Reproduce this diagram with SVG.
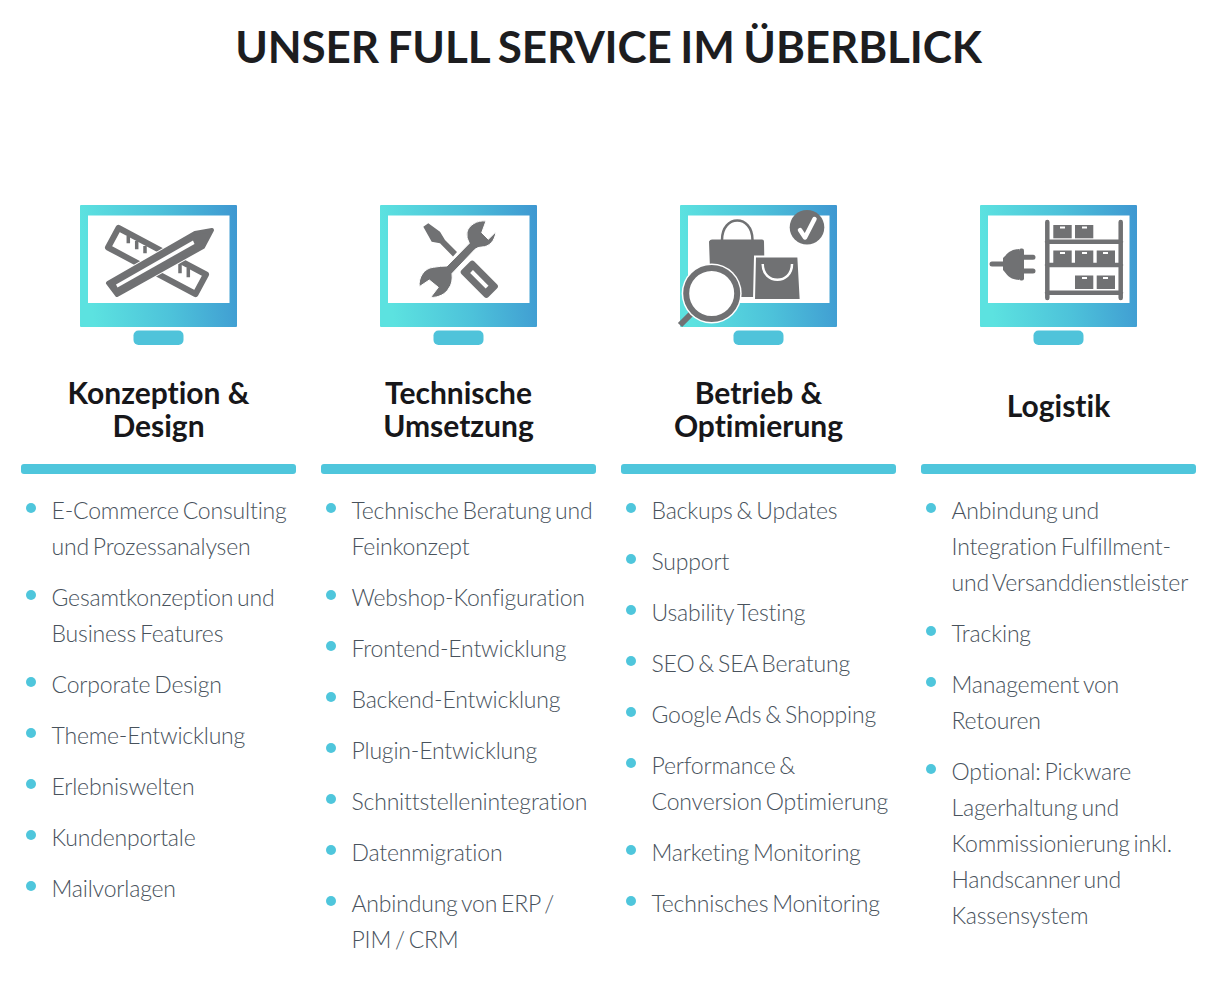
<svg xmlns="http://www.w3.org/2000/svg" xmlns:xlink="http://www.w3.org/1999/xlink" width="1223" height="981" viewBox="0 0 1223 981">
<style>
text{font-family:Lato,"Liberation Sans",sans-serif;font-variant-ligatures:none}
.t{font-size:44px;font-weight:700;fill:#1d1d1f;text-anchor:middle;word-spacing:-2px;letter-spacing:-0.1px}
.h{font-size:30px;font-weight:700;fill:#17171a;text-anchor:middle}
.l{font-size:23px;font-weight:300;fill:#48525c;letter-spacing:-0.18px;word-spacing:-2.2px}
.b{fill:#4fc6dc}
.g{fill:#707173}
.w{fill:#fff}
.gs{fill:none;stroke:#707173;stroke-linejoin:round;stroke-linecap:round}
</style>
<defs>
<linearGradient id="mg" x1="0" y1="0.1" x2="1" y2="0"><stop offset="0" stop-color="#5ce2e0"/><stop offset="0.5" stop-color="#4dc2da"/><stop offset="1" stop-color="#3e97d1"/></linearGradient>
<g id="monitor">
<rect x="80" y="205" width="157" height="122" rx="1" fill="url(#mg)"/>
<rect x="88" y="215.500" width="141.500" height="87.500" fill="#fff"/>
<rect x="133.500" y="330.500" width="50" height="14.500" rx="5" fill="#4fc3da"/>
<rect x="21" y="464" width="275" height="10" rx="3" class="b"/>
</g>
</defs>
<text x="608.500" y="62.500" class="t">UNSER FULL SERVICE IM ÜBERBLICK</text>
<g id="col1">
<use xlink:href="#monitor" href="#monitor"/>
<g id="icon1">
<path d="M118.500 228L206 274.500L195.500 294L108 247.500Z" class="gs" stroke-width="6"/>
<path d="M128.300 236V243.300M136.700 241V249.300M145 246V253.300M180 264V273.300M188.300 268V277.300" stroke="#707173" stroke-width="3.500" fill="none"/>
<path d="M108 283L195 233L212 230L203 247L117 295Z" fill="#fff" stroke="#fff" stroke-width="6" stroke-linejoin="round"/>
<path d="M108 283L195 233L212 230L203 247L117 295Z" class="g" stroke="#707173" stroke-width="4" stroke-linejoin="round"/>
<path d="M116 284.500L193 240.500L194.500 244L117.500 287.500Z" class="w"/>
</g>
<text class="h" x="158.500" y="404">Konzeption &amp;</text><text class="h" x="158.500" y="437">Design</text>
<circle class="b" cx="31" cy="508" r="5"/><text class="l" x="51.500" y="519">E-Commerce Consulting</text><text class="l" x="51.500" y="555">und Prozessanalysen</text>
<circle class="b" cx="31" cy="595" r="5"/><text class="l" x="51.500" y="606">Gesamtkonzeption und</text><text class="l" x="51.500" y="642">Business Features</text>
<circle class="b" cx="31" cy="682" r="5"/><text class="l" x="51.500" y="693">Corporate Design</text>
<circle class="b" cx="31" cy="733" r="5"/><text class="l" x="51.500" y="744">Theme-Entwicklung</text>
<circle class="b" cx="31" cy="784" r="5"/><text class="l" x="51.500" y="795">Erlebniswelten</text>
<circle class="b" cx="31" cy="835" r="5"/><text class="l" x="51.500" y="846">Kundenportale</text>
<circle class="b" cx="31" cy="886" r="5"/><text class="l" x="51.500" y="897">Mailvorlagen</text>
</g>
<g id="col2">
<use xlink:href="#monitor" href="#monitor" x="300"/>
<g id="icon2">
<path d="M423.300 226.700L428.300 223.300L440 231.700L445 240L457 252L453 256.500L440 243.300L431.700 241.700Z" class="g"/>
<path d="M486 221L481.700 232.700L488.300 239.300L496 231.700C495 241 489 247 481.700 247Q478 247 475 249.300L452 273.500Q453 283 449 288C446 294 438 298 430.700 297.300L438.300 287.300L429.300 280L419.300 286.700C418 278 424 268 433.300 267.300Q441 266 447 266L469.300 243.300Q466 238 467 232C469 225 477 220 486 221Z" class="g" stroke="#fff" stroke-width="1"/>
<g transform="translate(479.300 279.300) rotate(45)">
<rect x="-19" y="-9" width="38" height="18" rx="3" class="g"/>
<rect x="-11" y="-2" width="22" height="4" class="w"/>
</g>
</g>
<text class="h" x="458.500" y="404">Technische</text><text class="h" x="458.500" y="437">Umsetzung</text>
<circle class="b" cx="331" cy="508" r="5"/><text class="l" x="351.500" y="519">Technische Beratung und</text><text class="l" x="351.500" y="555">Feinkonzept</text>
<circle class="b" cx="331" cy="595" r="5"/><text class="l" x="351.500" y="606">Webshop-Konfiguration</text>
<circle class="b" cx="331" cy="646" r="5"/><text class="l" x="351.500" y="657">Frontend-Entwicklung</text>
<circle class="b" cx="331" cy="697" r="5"/><text class="l" x="351.500" y="708">Backend-Entwicklung</text>
<circle class="b" cx="331" cy="748" r="5"/><text class="l" x="351.500" y="759">Plugin-Entwicklung</text>
<circle class="b" cx="331" cy="799" r="5"/><text class="l" x="351.500" y="810">Schnittstellenintegration</text>
<circle class="b" cx="331" cy="850" r="5"/><text class="l" x="351.500" y="861">Datenmigration</text>
<circle class="b" cx="331" cy="901" r="5"/><text class="l" x="351.500" y="912">Anbindung von ERP /</text><text class="l" x="351.500" y="948">PIM / CRM</text>
</g>
<g id="col3">
<use xlink:href="#monitor" href="#monitor" x="600"/>
<g id="icon3">
<path d="M722 240C722 214 752.500 214 752.500 240" class="gs" stroke-width="2.500"/>
<path d="M712 239.500H762Q764 239.500 764 241.500L765 297H711L709 241.500Q710 239.500 712 239.500Z" class="g"/>
<path d="M755 256.500H798.300L800.700 300H754Z" class="g" stroke="#fff" stroke-width="2"/>
<path d="M762.700 264C762.700 285 792 285 792 264" fill="none" stroke="#fff" stroke-width="2.500"/>
<circle cx="807" cy="227.300" r="17.300" class="g"/>
<path d="M800 230L805 237.500L814.500 219" fill="none" stroke="#fff" stroke-width="4.500" stroke-linecap="round" stroke-linejoin="round"/>
<path d="M680 325L695 310" stroke="#707173" stroke-width="6" fill="none"/>
<circle cx="711.700" cy="293.500" r="30" class="w"/>
<circle cx="711.700" cy="293.500" r="25.500" class="w" stroke="#707173" stroke-width="6"/>
</g>
<text class="h" x="758.500" y="404">Betrieb &amp;</text><text class="h" x="758.500" y="437">Optimierung</text>
<circle class="b" cx="631" cy="508" r="5"/><text class="l" x="651.500" y="519">Backups &amp; Updates</text>
<circle class="b" cx="631" cy="559" r="5"/><text class="l" x="651.500" y="570">Support</text>
<circle class="b" cx="631" cy="610" r="5"/><text class="l" x="651.500" y="621">Usability Testing</text>
<circle class="b" cx="631" cy="661" r="5"/><text class="l" x="651.500" y="672">SEO &amp; SEA Beratung</text>
<circle class="b" cx="631" cy="712" r="5"/><text class="l" x="651.500" y="723">Google Ads &amp; Shopping</text>
<circle class="b" cx="631" cy="763" r="5"/><text class="l" x="651.500" y="774">Performance &amp;</text><text class="l" x="651.500" y="810">Conversion Optimierung</text>
<circle class="b" cx="631" cy="850" r="5"/><text class="l" x="651.500" y="861">Marketing Monitoring</text>
<circle class="b" cx="631" cy="901" r="5"/><text class="l" x="651.500" y="912">Technisches Monitoring</text>
</g>
<g id="col4">
<use xlink:href="#monitor" href="#monitor" x="900"/>
<g id="icon4">
<path d="M1047.300 222V298M1120.700 222V298M1047 241.700H1121M1047 265H1121M1047 292.700H1121" class="gs" stroke-width="4.500"/>
<g id="boxes">
<rect x="1053.300" y="225" width="18.400" height="13.300" class="g"/><rect x="1075" y="225" width="18.300" height="13.300" class="g"/>
<rect x="1053.300" y="250.500" width="18.400" height="13.500" class="g"/><rect x="1075" y="250.500" width="18.300" height="13.500" class="g"/><rect x="1096.700" y="250.500" width="18.300" height="13.500" class="g"/>
<rect x="1075" y="275.500" width="18.300" height="13.500" class="g"/><rect x="1096.700" y="275.500" width="18.300" height="13.500" class="g"/>
<path d="M1060 227.500h5M1082 227.500h5M1060 253h5M1082 253h5M1103 253h5M1082 278h5M1103 278h5" stroke="#fff" stroke-width="2"/>
</g>
<path d="M992 264H1006" class="gs" stroke-width="5"/>
<path d="M1003 258C1007 255 1008 250 1019 249V280C1008 279 1007 274 1003 270Z" class="g"/>
<rect x="1019" y="248.500" width="5" height="32" rx="2" class="g"/>
<path d="M1022 257.300H1033M1022 271H1033" class="gs" stroke-width="5"/>
</g>
<text class="h" x="1058.500" y="417">Logistik</text>
<circle class="b" cx="931" cy="508" r="5"/><text class="l" x="951.500" y="519">Anbindung und</text><text class="l" x="951.500" y="555">Integration Fulfillment-</text><text class="l" x="951.500" y="591">und Versanddienstleister</text>
<circle class="b" cx="931" cy="631" r="5"/><text class="l" x="951.500" y="642">Tracking</text>
<circle class="b" cx="931" cy="682" r="5"/><text class="l" x="951.500" y="693">Management von</text><text class="l" x="951.500" y="729">Retouren</text>
<circle class="b" cx="931" cy="769" r="5"/><text class="l" x="951.500" y="780">Optional: Pickware</text><text class="l" x="951.500" y="816">Lagerhaltung und</text><text class="l" x="951.500" y="852">Kommissionierung inkl.</text><text class="l" x="951.500" y="888">Handscanner und</text><text class="l" x="951.500" y="924">Kassensystem</text>
</g>
</svg>
